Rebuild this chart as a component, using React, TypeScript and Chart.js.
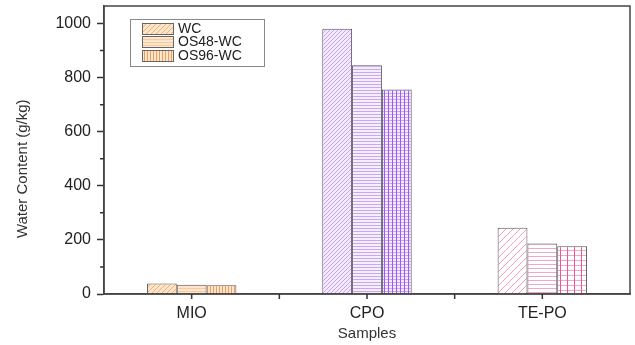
import React, { useEffect, useRef } from 'react';
import { Chart, registerables } from 'chart.js';

Chart.register(...registerables);

const categories = ['MIO', 'CPO', 'TE-PO'];
const seriesNames = ['WC', 'OS48-WC', 'OS96-WC'];
const wcValues = [39, 981, 245];
const os48Values = [34, 846, 187];
const os96Values = [32, 756, 177];
const yMinorTicks = [100, 300, 500, 700, 900];

type PatternKind = 'diag' | 'horiz' | 'grid' | 'vert';

function makePattern(kind: PatternKind, bg: string, line: string, line2: string, sx: number, sy: number): CanvasPattern | string {
  const c = document.createElement('canvas');
  c.width = sx;
  c.height = sy;
  const g = c.getContext('2d');
  if (!g) return bg;
  g.fillStyle = bg;
  g.fillRect(0, 0, sx, sy);
  g.lineWidth = 1;
  if (kind === 'diag') {
    g.strokeStyle = line;
    g.beginPath();
    g.moveTo(0, sy);
    g.lineTo(sx, 0);
    g.moveTo(-sx, sy);
    g.lineTo(0, 0);
    g.moveTo(sx, 2 * sy);
    g.lineTo(2 * sx, 0);
    g.stroke();
  } else if (kind === 'horiz') {
    g.strokeStyle = line;
    g.beginPath();
    g.moveTo(0, 0.5);
    g.lineTo(sx, 0.5);
    g.stroke();
  } else if (kind === 'vert') {
    g.strokeStyle = line2;
    g.beginPath();
    g.moveTo(0.5, 0);
    g.lineTo(0.5, sy);
    g.stroke();
  } else {
    g.strokeStyle = line;
    g.beginPath();
    g.moveTo(0, 0.5);
    g.lineTo(sx, 0.5);
    g.stroke();
    g.strokeStyle = line2;
    g.beginPath();
    g.moveTo(0.5, 0);
    g.lineTo(0.5, sy);
    g.stroke();
  }
  const p = g.createPattern(c, 'repeat');
  return p || bg;
}

export default function App() {
  const ref = useRef<HTMLCanvasElement | null>(null);

  useEffect(() => {
    if (!ref.current) return;
    const mio = {
      wc: makePattern('diag', '#fde5cc', '#f0b07a', '#f0b07a', 5, 5),
      os48: makePattern('horiz', '#fde5cc', '#f6cba2', '#f6cba2', 3, 3),
      os96: makePattern('vert', '#fde5cc', '#ee9e5c', '#ee9e5c', 3, 3),
    };
    const cpo = {
      wc: makePattern('diag', '#f3eafd', '#c8a2f2', '#c8a2f2', 4, 4),
      os48: makePattern('horiz', '#f5eefd', '#c9a6f3', '#c9a6f3', 3, 3),
      os96: makePattern('grid', '#f3eafd', '#c9a6f3', '#9a5cf0', 4, 3),
    };
    const tepo = {
      wc: makePattern('diag', '#ffffff', '#f29dc0', '#f29dc0', 7, 7),
      os48: makePattern('horiz', '#ffffff', '#f4a6c6', '#f4a6c6', 4, 4),
      os96: makePattern('grid', '#ffffff', '#f4a6c6', '#e8589a', 7, 5),
    };

    const boxPlugin = {
      id: 'boxPlugin',
      afterDatasetsDraw(chart: any) {
        const { ctx, chartArea } = chart;
        const x = chart.scales.x;
        const y = chart.scales.y;
        ctx.save();
        ctx.strokeStyle = '#444';
        ctx.lineWidth = 1.5;
        ctx.strokeRect(chartArea.left, chartArea.top, chartArea.right - chartArea.left, chartArea.bottom - chartArea.top);
        ctx.strokeStyle = '#333';
        ctx.lineWidth = 1.5;
        ctx.beginPath();
        for (let i = 0; i < categories.length; i++) {
          const px = x.getPixelForValue(i);
          ctx.moveTo(px, chartArea.bottom);
          ctx.lineTo(px, chartArea.bottom + 5);
          if (i < categories.length - 1) {
            const mx = (px + x.getPixelForValue(i + 1)) / 2;
            ctx.moveTo(mx, chartArea.bottom);
            ctx.lineTo(mx, chartArea.bottom + 5);
          }
        }
        for (const v of yMinorTicks) {
          const py = y.getPixelForValue(v);
          ctx.moveTo(chartArea.left, py);
          ctx.lineTo(chartArea.left - 4, py);
        }
        ctx.stroke();
        ctx.restore();
      },
      afterDraw(chart: any) {
        const { ctx } = chart;
        ctx.save();
        const bx = 130, by = 19, bw = 134, bh = 47;
        ctx.fillStyle = '#ffffff';
        ctx.fillRect(bx, by, bw, bh);
        ctx.strokeStyle = '#888';
        ctx.lineWidth = 1;
        ctx.strokeRect(bx + 0.5, by + 0.5, bw, bh);
        const swatches = [mio.wc, mio.os48, mio.os96];
        const rowsY = [29, 42, 56];
        ctx.font = '14px "Liberation Sans", Arial, sans-serif';
        ctx.textBaseline = 'middle';
        ctx.textAlign = 'left';
        for (let i = 0; i < seriesNames.length; i++) {
          const cy = rowsY[i];
          ctx.fillStyle = swatches[i] as any;
          ctx.fillRect(142, cy - 5.5, 31, 11);
          ctx.strokeStyle = '#666';
          ctx.lineWidth = 1;
          ctx.strokeRect(142.5, cy - 5.5, 31, 11);
          ctx.fillStyle = '#222';
          ctx.fillText(seriesNames[i], 178, cy + 0.5);
        }
        ctx.restore();
      },
    };

    const chart = new Chart(ref.current, {
      type: 'bar',
      data: {
        labels: categories,
        datasets: [
          {
            label: seriesNames[0],
            data: wcValues,
            backgroundColor: [mio.wc, cpo.wc, tepo.wc] as any,
            borderColor: '#555',
            borderWidth: 1,
          },
          {
            label: seriesNames[1],
            data: os48Values,
            backgroundColor: [mio.os48, cpo.os48, tepo.os48] as any,
            borderColor: '#555',
            borderWidth: 1,
          },
          {
            label: seriesNames[2],
            data: os96Values,
            backgroundColor: [mio.os96, cpo.os96, tepo.os96] as any,
            borderColor: '#555',
            borderWidth: 1,
          },
        ],
      },
      options: {
        responsive: false,
        animation: false,
        devicePixelRatio: 1,
        layout: { padding: { left: 0, right: 5, top: 6, bottom: 0 } },
        plugins: {
          legend: { display: false },
          tooltip: { enabled: false },
        },
        datasets: {
          bar: { barPercentage: 1, categoryPercentage: 0.51 },
        },
        scales: {
          x: {
            type: 'category',
            offset: true,
            grid: { display: false },
            border: { display: true, color: '#444', width: 1.5 },
            ticks: {
              padding: 2,
              color: '#222',
              font: { family: '"Liberation Sans", Arial, sans-serif', size: 16 },
            },
            title: {
              display: true,
              text: 'Samples',
              color: '#333',
              font: { family: '"Liberation Sans", Arial, sans-serif', size: 15 },
              padding: { top: 0, bottom: 2 },
            },
            afterFit(scale: any) {
              scale.height = 51;
              scale.paddingLeft = 0;
              scale.paddingRight = 0;
            },
          },
          y: {
            type: 'linear',
            min: 0,
            max: 1065,
            grid: {
              drawOnChartArea: false,
              drawTicks: true,
              tickLength: 7,
              tickWidth: 1.5,
              tickColor: (c: any) => (c.tick && c.tick.value % 200 === 0 ? '#333' : 'rgba(0,0,0,0)'),
            },
            border: { display: true, color: '#444', width: 1.5 },
            ticks: {
              stepSize: 100,
              includeBounds: false,
              padding: 6,
              color: '#222',
              font: { family: '"Liberation Sans", Arial, sans-serif', size: 16 },
              callback: (v: any) => (Number(v) % 200 === 0 ? String(v) : ''),
            },
            title: {
              display: true,
              text: 'Water Content (g/kg)         ',
              color: '#333',
              font: { family: '"Liberation Sans", Arial, sans-serif', size: 15 },
              padding: { top: 14, bottom: 0 },
            },
            afterFit(scale: any) {
              scale.width = 104;
              scale.paddingTop = 0;
              scale.paddingBottom = 0;
            },
          },
        },
      },
      plugins: [boxPlugin],
    });
    return () => chart.destroy();
  }, []);

  return (
    <div style={{ position: 'fixed', left: 0, top: 0, width: 635, height: 345, background: '#fff' }}>
      <canvas ref={ref} width={635} height={345} style={{ display: 'block' }} />
    </div>
  );
}
